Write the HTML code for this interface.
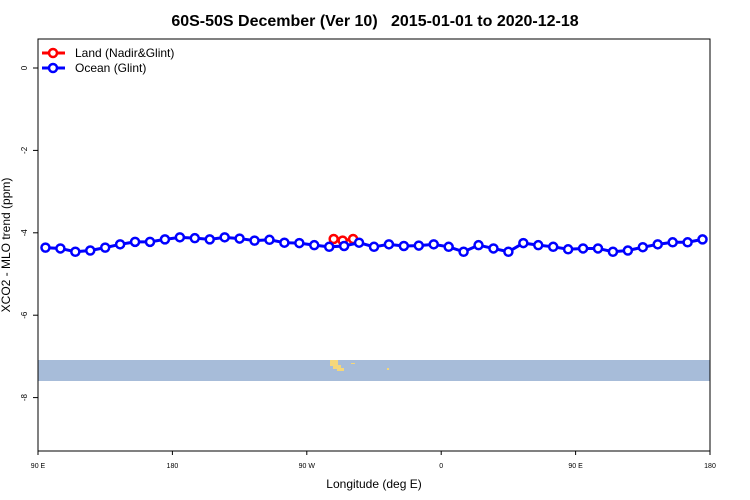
<!DOCTYPE html>
<html><head><meta charset="utf-8"><style>
body{margin:0;background:#fff;}
svg{display:block;font-family:"Liberation Sans",sans-serif;}
</style></head><body>
<svg id="chart" width="750" height="500">
<text x="375" y="26" text-anchor="middle" font-size="16" font-weight="bold" style="white-space:pre">60S-50S December (Ver 10)   2015-01-01 to 2020-12-18</text>
<rect x="38" y="360" width="672" height="21" fill="#a7bcd9"/>
<g fill="#f5d77a">
<rect x="330" y="360" width="8" height="6"/><rect x="333" y="365" width="8" height="4"/><rect x="337" y="368" width="7" height="3"/><rect x="351" y="363" width="4" height="1"/><rect x="387" y="368" width="2" height="2"/>
</g>
<g id="axes"></g>
<g id="series"></g>
<rect x="38" y="39" width="672" height="412" fill="none" stroke="#000" stroke-width="1"/>
<text x="374" y="488" text-anchor="middle" font-size="12">Longitude (deg E)</text>
<text transform="translate(10,245) rotate(-90)" text-anchor="middle" font-size="12">XCO2 - MLO trend (ppm)</text>
<g>
<g>
<line x1="42" y1="53" x2="65" y2="53" stroke="#f00" stroke-width="3"/><circle cx="53" cy="53" r="4" fill="#fff" stroke="#f00" stroke-width="2.5"/>
<text x="75" y="57" font-size="12">Land (Nadir&amp;Glint)</text></g>
<g>
<line x1="42" y1="68" x2="65" y2="68" stroke="#00f" stroke-width="3"/><circle cx="53" cy="68" r="4" fill="#fff" stroke="#00f" stroke-width="2.5"/>
<text x="75" y="72" font-size="12">Ocean (Glint)</text></g>
</g>
</svg>
<script>
const oceanValues=[-4.36,-4.38,-4.46,-4.43,-4.36,-4.28,-4.22,-4.22,-4.16,-4.11,-4.13,-4.16,-4.11,-4.14,-4.19,-4.17,-4.24,-4.25,-4.30,-4.34,-4.32,-4.24,-4.34,-4.28,-4.32,-4.31,-4.28,-4.34,-4.46,-4.30,-4.38,-4.46,-4.25,-4.30,-4.34,-4.40,-4.38,-4.38,-4.46,-4.43,-4.35,-4.28,-4.23,-4.23,-4.16];
const oceanStartLon=95, lonStep=10;
const landLons=[288,294,301];
const landValues=[-4.15,-4.19,-4.15];
const yTicks=[0,-2,-4,-6,-8];
const xTickLons=[90,180,270,360,450,540];
const xTickLabels=["90 E","180","90 W","0","90 E","180"];
const X=lon=>38+(lon-90)*672/450;
const Y=v=>68-v*41.2;
const NS="http://www.w3.org/2000/svg";
function mk(tag,attrs,parent){const e=document.createElementNS(NS,tag);for(const k in attrs)e.setAttribute(k,attrs[k]);parent.appendChild(e);return e;}
const ax=document.getElementById('axes'),se=document.getElementById('series');
yTicks.forEach(v=>{
 const t=mk('line',{x1:33,x2:38,y1:Y(v),y2:Y(v),stroke:'#000'},ax);
 
 
 const l=mk('text',{transform:`translate(27,${Y(v)}) rotate(-90)`,'text-anchor':'middle','font-size':8},ax);
 l.textContent=v;
 
 
});
xTickLons.forEach((lon,i)=>{
 const x=X(lon);
 const t=mk('line',{x1:x,x2:x,y1:451,y2:455,stroke:'#000'},ax);
 
 
 const l=mk('text',{x:x,y:468,'text-anchor':'middle','font-size':7},ax);
 l.textContent=xTickLabels[i];
 
 
});
function drawSeries(lons,vals,color,name){
 const pts=lons.map((lon,i)=>X(lon)+','+Y(vals[i])).join(' ');
 const pl=mk('polyline',{points:pts,fill:'none',stroke:color,'stroke-width':3},se);
 
 
 lons.forEach((lon,i)=>{
  const c=mk('circle',{cx:X(lon),cy:Y(vals[i]),r:4,fill:'#fff',stroke:color,'stroke-width':2.5},se);
  
  
 });
}
drawSeries(landLons,landValues,'#f00','land');
drawSeries(oceanValues.map((_,i)=>oceanStartLon+i*lonStep),oceanValues,'#00f','ocean');
</script>
</body></html>
